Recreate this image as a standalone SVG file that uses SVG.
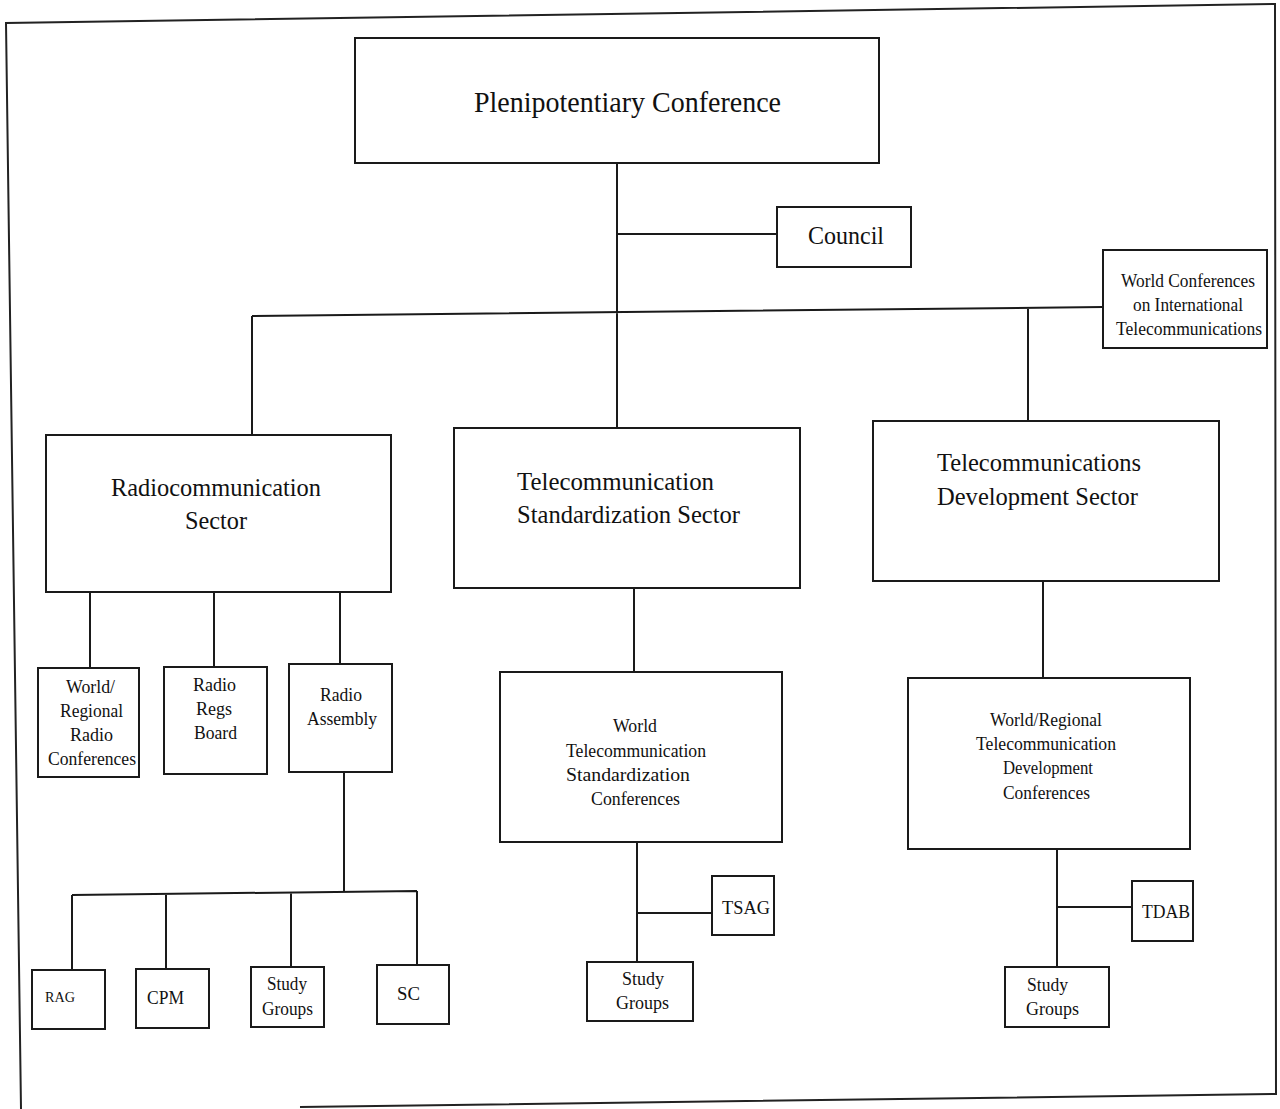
<svg xmlns="http://www.w3.org/2000/svg" width="1280" height="1109" viewBox="0 0 1280 1109">
<style>
.box{fill:#fff;stroke:#1a1a1a;stroke-width:2}
.ln{fill:none;stroke:#1a1a1a;stroke-width:2}
.frame{fill:none;stroke:#222;stroke-width:2}
text{font-family:"Liberation Serif","Times New Roman",serif;fill:#111;text-anchor:start}
.xl{font-size:30px}
.l{font-size:26px}
.m{font-size:18px}
.s{font-size:15px}
</style>
<rect width="1280" height="1109" fill="#fff"/>
<g id="frame">
<polyline class="frame" points="21,1109 6,23 1275,4 1276,1094 300,1107"/>
</g>
<g id="connectors">
<path class="ln" d="M617,163 V428 M617,234 H777 M252,316 L1103,307 M252,316 V435 M1028,308 V421"/>
<path class="ln" d="M90,592 V668 M214,592 V667 M340,592 V664"/>
<path class="ln" d="M344,772 V893 M72,895 L417,891 M72,895 V970 M166,894 V969 M291,893 V967 M417,891 V965"/>
<path class="ln" d="M634,588 V672 M637,842 V962 M637,913 H712"/>
<path class="ln" d="M1043,581 V678 M1057,849 V967 M1057,907 H1132"/>
</g>
<g id="plenipotentiary">
<rect class="box" x="355" y="38" width="524" height="125"/>
<text class="xl" x="474" y="112" textLength="307" lengthAdjust="spacingAndGlyphs">Plenipotentiary Conference</text>
</g>
<g id="council">
<rect class="box" x="777" y="207" width="134" height="60"/>
<text class="l" x="808" y="244" textLength="76" lengthAdjust="spacingAndGlyphs">Council</text>
</g>
<g id="wcit">
<rect class="box" x="1103" y="250" width="164" height="98"/>
<text class="m" x="1121" y="287" textLength="134" lengthAdjust="spacingAndGlyphs">World Conferences</text>
<text class="m" x="1133" y="311" textLength="110" lengthAdjust="spacingAndGlyphs">on International</text>
<text class="m" x="1116" y="335" textLength="146" lengthAdjust="spacingAndGlyphs">Telecommunications</text>
</g>
<g id="radio-sector">
<rect class="box" x="46" y="435" width="345" height="157"/>
<text class="l" x="111" y="496" textLength="210" lengthAdjust="spacingAndGlyphs">Radiocommunication</text>
<text class="l" x="185" y="529" textLength="62" lengthAdjust="spacingAndGlyphs">Sector</text>
</g>
<g id="standardization-sector">
<rect class="box" x="454" y="428" width="346" height="160"/>
<text class="l" x="517" y="490" textLength="197" lengthAdjust="spacingAndGlyphs">Telecommunication</text>
<text class="l" x="517" y="523" textLength="223" lengthAdjust="spacingAndGlyphs">Standardization Sector</text>
</g>
<g id="development-sector">
<rect class="box" x="873" y="421" width="346" height="160"/>
<text class="l" x="937" y="471" textLength="204" lengthAdjust="spacingAndGlyphs">Telecommunications</text>
<text class="l" x="937" y="505" textLength="201" lengthAdjust="spacingAndGlyphs">Development Sector</text>
</g>
<g id="world-regional-radio">
<rect class="box" x="38" y="668" width="101" height="109"/>
<text class="m" x="66" y="693" textLength="49" lengthAdjust="spacingAndGlyphs">World/</text>
<text class="m" x="60" y="717" textLength="63" lengthAdjust="spacingAndGlyphs">Regional</text>
<text class="m" x="70" y="741" textLength="43" lengthAdjust="spacingAndGlyphs">Radio</text>
<text class="m" x="48" y="765" textLength="88" lengthAdjust="spacingAndGlyphs">Conferences</text>
</g>
<g id="radio-regs-board">
<rect class="box" x="164" y="667" width="103" height="107"/>
<text class="m" x="193" y="691" textLength="43" lengthAdjust="spacingAndGlyphs">Radio</text>
<text class="m" x="196" y="715" textLength="36" lengthAdjust="spacingAndGlyphs">Regs</text>
<text class="m" x="194" y="739" textLength="43" lengthAdjust="spacingAndGlyphs">Board</text>
</g>
<g id="radio-assembly">
<rect class="box" x="289" y="664" width="103" height="108"/>
<text class="m" x="320" y="701" textLength="42" lengthAdjust="spacingAndGlyphs">Radio</text>
<text class="m" x="307" y="725" textLength="70" lengthAdjust="spacingAndGlyphs">Assembly</text>
</g>
<g id="rag">
<rect class="box" x="32" y="970" width="73" height="59"/>
<text class="s" x="45" y="1002" textLength="30" lengthAdjust="spacingAndGlyphs">RAG</text>
</g>
<g id="cpm">
<rect class="box" x="136" y="969" width="73" height="59"/>
<text class="m" x="147" y="1004" textLength="37" lengthAdjust="spacingAndGlyphs">CPM</text>
</g>
<g id="radio-study-groups">
<rect class="box" x="251" y="967" width="73" height="60"/>
<text class="m" x="267" y="990" textLength="40" lengthAdjust="spacingAndGlyphs">Study</text>
<text class="m" x="262" y="1015" textLength="51" lengthAdjust="spacingAndGlyphs">Groups</text>
</g>
<g id="sc">
<rect class="box" x="377" y="965" width="72" height="59"/>
<text class="m" x="397" y="1000" textLength="23" lengthAdjust="spacingAndGlyphs">SC</text>
</g>
<g id="wtsc">
<rect class="box" x="500" y="672" width="282" height="170"/>
<text class="m" x="613" y="732" textLength="44" lengthAdjust="spacingAndGlyphs">World</text>
<text class="m" x="566" y="757" textLength="140" lengthAdjust="spacingAndGlyphs">Telecommunication</text>
<text class="m" x="566" y="781" textLength="124" lengthAdjust="spacingAndGlyphs">Standardization</text>
<text class="m" x="591" y="805" textLength="89" lengthAdjust="spacingAndGlyphs">Conferences</text>
</g>
<g id="tsag">
<rect class="box" x="712" y="876" width="62" height="59"/>
<text class="m" x="722" y="914" textLength="48" lengthAdjust="spacingAndGlyphs">TSAG</text>
</g>
<g id="t-study-groups">
<rect class="box" x="587" y="962" width="106" height="59"/>
<text class="m" x="622" y="985" textLength="42" lengthAdjust="spacingAndGlyphs">Study</text>
<text class="m" x="616" y="1009" textLength="53" lengthAdjust="spacingAndGlyphs">Groups</text>
</g>
<g id="wrtdc">
<rect class="box" x="908" y="678" width="282" height="171"/>
<text class="m" x="990" y="726" textLength="112" lengthAdjust="spacingAndGlyphs">World/Regional</text>
<text class="m" x="976" y="750" textLength="140" lengthAdjust="spacingAndGlyphs">Telecommunication</text>
<text class="m" x="1003" y="774" textLength="90" lengthAdjust="spacingAndGlyphs">Development</text>
<text class="m" x="1003" y="799" textLength="87" lengthAdjust="spacingAndGlyphs">Conferences</text>
</g>
<g id="tdab">
<rect class="box" x="1132" y="881" width="61" height="60"/>
<text class="m" x="1142" y="918" textLength="48" lengthAdjust="spacingAndGlyphs">TDAB</text>
</g>
<g id="d-study-groups">
<rect class="box" x="1005" y="967" width="104" height="60"/>
<text class="m" x="1027" y="991" textLength="41" lengthAdjust="spacingAndGlyphs">Study</text>
<text class="m" x="1026" y="1015" textLength="53" lengthAdjust="spacingAndGlyphs">Groups</text>
</g>
</svg>
